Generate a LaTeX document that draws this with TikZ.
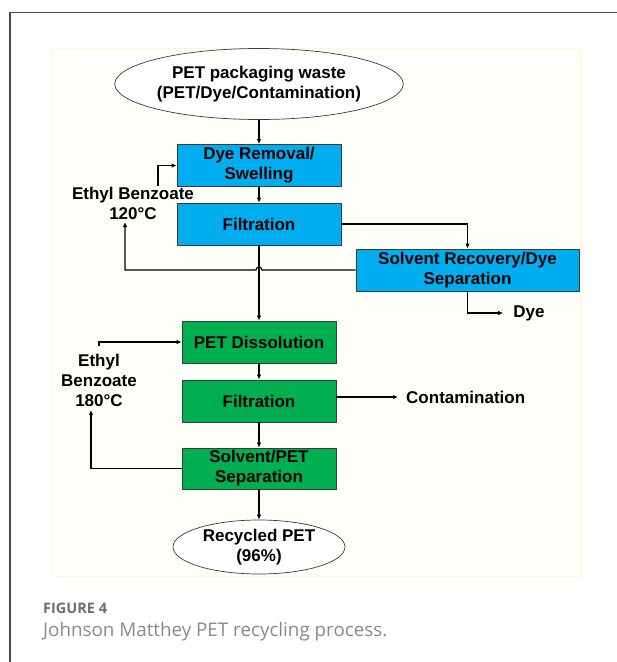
\documentclass[tikz,border=0pt]{standalone}
\usepackage{fontspec}
\setmainfont{Liberation Sans}
\newfontfamily\capfont{Open Sans}
\usetikzlibrary{shapes.geometric,arrows.meta}
\definecolor{boxblue}{HTML}{00AEEF}
\definecolor{boxgreen}{HTML}{00B050}
\definecolor{boxline}{HTML}{3A3A3A}
\definecolor{panelfill}{HTML}{FFFFFA}
\definecolor{panelline}{HTML}{FFF8D6}
\definecolor{framegray}{HTML}{4A4A4A}
\definecolor{figgray}{HTML}{6E6E6E}
\definecolor{capgray}{HTML}{8A8A8A}
\tikzset{
  lbl/.style={font=\bfseries\fontsize{17}{20}\selectfont, align=center, inner sep=0pt},
  procbox/.style={rectangle, draw=boxline, line width=0.8pt, lbl},
  bluebox/.style={procbox, fill=boxblue},
  greenbox/.style={procbox, fill=boxgreen},
  oval/.style={ellipse, draw=boxline, line width=0.7pt, fill=white, lbl},
  flow/.style={line width=1.2pt, -{Latex[length=5pt,width=4.5pt]}}
}
\begin{document}
\begin{tikzpicture}[x=1pt,y=-1pt]
\useasboundingbox (0,0) rectangle (617,662);
\fill[white] (0,0) rectangle (617,662);
% outer frame
\draw[framegray, line width=1.4pt] (10,662) -- (10,12.5) -- (617,12.5);
% panel
\draw[panelline, fill=panelfill, line width=0.8pt] (52,48) rectangle (581,576);

% nodes
\node[oval, minimum width=259pt, minimum height=71pt] (waste) at (259,84) {PET packaging waste\\(PET/Dye/Contamination)};
\node[bluebox, minimum width=164pt, minimum height=42pt] (dye) at (259,165.5) {Dye Removal/\\Swelling};
\node[bluebox, minimum width=164pt, minimum height=42pt] (filt1) at (259,224) {Filtration};
\node[bluebox, minimum width=223pt, minimum height=42pt] (srec) at (467.5,270) {Solvent Recovery/Dye\\Separation};
\node[lbl] (dyeout) at (529,313) {Dye};
\node[lbl] (eb1) at (133,203) {Ethyl Benzoate\\120\textdegree C};

\node[greenbox, minimum width=154pt, minimum height=42pt] (pdiss) at (259,342) {PET Dissolution};
\node[greenbox, minimum width=154pt, minimum height=42pt] (filt2) at (259,401) {Filtration};
\node[greenbox, minimum width=154pt, minimum height=41pt] (sep) at (259,468.5) {Solvent/PET\\Separation};
\node[oval, minimum width=172pt, minimum height=54pt] (rec) at (259,547) {Recycled PET\\(96\%)};
\node[lbl, anchor=west] (cont) at (406,397) {Contamination};
\node[lbl] (eb2) at (99,380) {Ethyl\\Benzoate\\180\textdegree C};

% coordinates for free ends
\coordinate (eb1top) at (158,186);
\coordinate (eb1bot) at (125,222);
\coordinate (eb2top) at (99,346);
\coordinate (eb2bot) at (91,410);

% connectors
\draw[flow] (waste.south) -- (dye.north);
\draw[flow] (dye.south) -- (filt1.north);
\draw[flow] (eb1top) |- (dye.west);
\draw[flow] (filt1.east) -| (srec.north);
\draw[flow] (filt1.south) -- (pdiss.north);
\draw[flow] (srec.west |- 0,270) -- (262,270) arc[start angle=0, end angle=180, radius=3pt] -- (125,270) -- (eb1bot);
\draw[flow] (srec.south) |- ([xshift=-10pt]dyeout.west);

\draw[flow] (eb2top) |- (pdiss.west);
\draw[flow] (pdiss.south) -- (filt2.north);
\draw[flow] (filt2.south) -- (sep.north);
\draw[flow] (filt2.east |- 0,397) -- ([xshift=-8pt]cont.west);
\draw[flow] (sep.west) -| (eb2bot);
\draw[flow] (sep.south) -- (rec.north);

% caption
\node[anchor=base west, inner sep=0pt, text=figgray, font=\capfont\bfseries\fontsize{14.5}{17}\selectfont] (fig) at (43,613) {FIGURE 4};
\node[anchor=base west, inner sep=0pt, text=capgray, font=\capfont\fontsize{18.8}{22}\selectfont] (cap) at (43,636) {Johnson Matthey PET recycling process.};
\end{tikzpicture}
\end{document}
